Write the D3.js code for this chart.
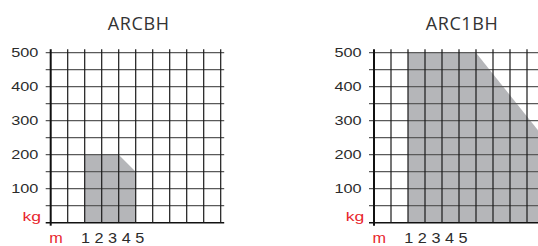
<!DOCTYPE html>
<html>
<head>
<meta charset="utf-8">
<script src="https://cdn.jsdelivr.net/npm/d3@7"></script>
<style>
  body { margin: 0; background: #fff; }
  svg { display: block; }
</style>
</head>
<body>
<div id="chart"></div>
<script>
'use strict';

// chart names
const titles = ['ARCBH', 'ARC1BH'];
// y ticks (kg) and x labels (m)
const yTicks = [100, 200, 300, 400, 500];
const xLabels = ['1', '2', '3', '4', '5'];
// load envelopes: grid column position / kg
const arcbhCol = [2, 2, 4, 5, 5];
const arcbhKg = [0, 200, 200, 150, 0];
const arc1bhCol = [2, 2, 6, 10, 10];
const arc1bhKg = [0, 500, 500, 250, 0];

const envelopes = [
  arcbhCol.map((c, i) => ({col: c, kg: arcbhKg[i]})),
  arc1bhCol.map((c, i) => ({col: c, kg: arc1bhKg[i]}))
];

const W = 538, H = 246;
const svg = d3.select('#chart').append('svg')
  .attr('width', W)
  .attr('height', H);

const red = '#e8262d';
const txt = '#2b2b2b';

function drawPanel(idx, x0) {
  const g = svg.append('g');

  let x = d3.scaleLinear().domain([0, 10]).range([x0, x0 + 170]);
  let y = d3.scaleLinear().domain([0, 500]).range([222.7, 52.7]);

  // shaded area
  let area = d3.line().x(d => x(d.col)).y(d => y(d.kg));
  g.append('path')
    .attr('d', area(envelopes[idx]) + 'Z')
    .attr('fill', '#b5b6b9');

  // horizontal grid
  g.selectAll('.hg')
    .data(d3.range(0, 501, 50))
    .enter().append('line')
    .attr('x1', x(0) - 5)
    .attr('x2', x(10) + 3.5)
    .attr('y1', d => y(d))
    .attr('y2', d => y(d))
    .attr('stroke', d => d == 0 ? '#111' : '#5a5a5a')
    .attr('stroke-width', d => d == 0 ? 1.6 : 1.2);

  // vertical grid
  g.selectAll('.vg')
    .data(d3.range(1, 11))
    .enter().append('line')
    .attr('x1', d => x(d))
    .attr('x2', d => x(d))
    .attr('y1', y(500) - 3.5)
    .attr('y2', y(0))
    .attr('stroke', '#1a1a1a')
    .attr('stroke-width', 1.2);

  // y axis line
  g.append('line')
    .attr('x1', x(0)).attr('x2', x(0))
    .attr('y1', y(500) - 3.5).attr('y2', y(0) + 3)
    .attr('stroke', '#111')
    .attr('stroke-width', 2);

  // y tick labels
  g.selectAll('.yl')
    .data(yTicks)
    .enter().append('text')
    .attr('transform', d => 'translate(' + (x(0) - 12.4) + ',' + (y(d) + 4.7) + ') scale(1.25,1)')
    .attr('text-anchor', 'end')
    .style('font-family', '"Liberation Sans", Arial, sans-serif')
    .style('font-size', '13px')
    .style('fill', txt)
    .text(d => d);

  // kg unit
  g.append('text')
    .attr('transform', 'translate(' + (x(0) - 9.7) + ',220.7) scale(1.3,1)')
    .attr('text-anchor', 'end')
    .style('font-family', '"Liberation Sans", Arial, sans-serif')
    .style('font-size', '13.5px')
    .style('fill', red)
    .text('kg');

  // m unit
  g.append('text')
    .attr('transform', 'translate(' + (x(0) + 5.3) + ',242.6) scale(1.16,1)')
    .attr('text-anchor', 'middle')
    .style('font-family', '"Liberation Sans", Arial, sans-serif')
    .style('font-size', '14px')
    .style('fill', red)
    .text('m');

  // x labels
  let xl = d3.scalePoint().domain(xLabels).range([x0 + 34.8, x0 + 89]);
  g.selectAll('.xl')
    .data(xLabels)
    .enter().append('text')
    .attr('transform', d => 'translate(' + xl(d) + ',242.6) scale(1.16,1)')
    .attr('text-anchor', 'middle')
    .style('font-family', '"Liberation Sans", Arial, sans-serif')
    .style('font-size', '14px')
    .style('fill', txt)
    .text(d => d);

  // title
  g.append('text')
    .attr('x', x0 + 88)
    .attr('y', 30)
    .attr('text-anchor', 'middle')
    .style('font-family', '"Open Sans", "Noto Sans", sans-serif')
    .style('font-size', '18px')
    .style('letter-spacing', '0.6px')
    .style('fill', '#333')
    .text(titles[idx]);
}

drawPanel(0, 50.7);
drawPanel(1, 374);
</script>
</body>
</html>
